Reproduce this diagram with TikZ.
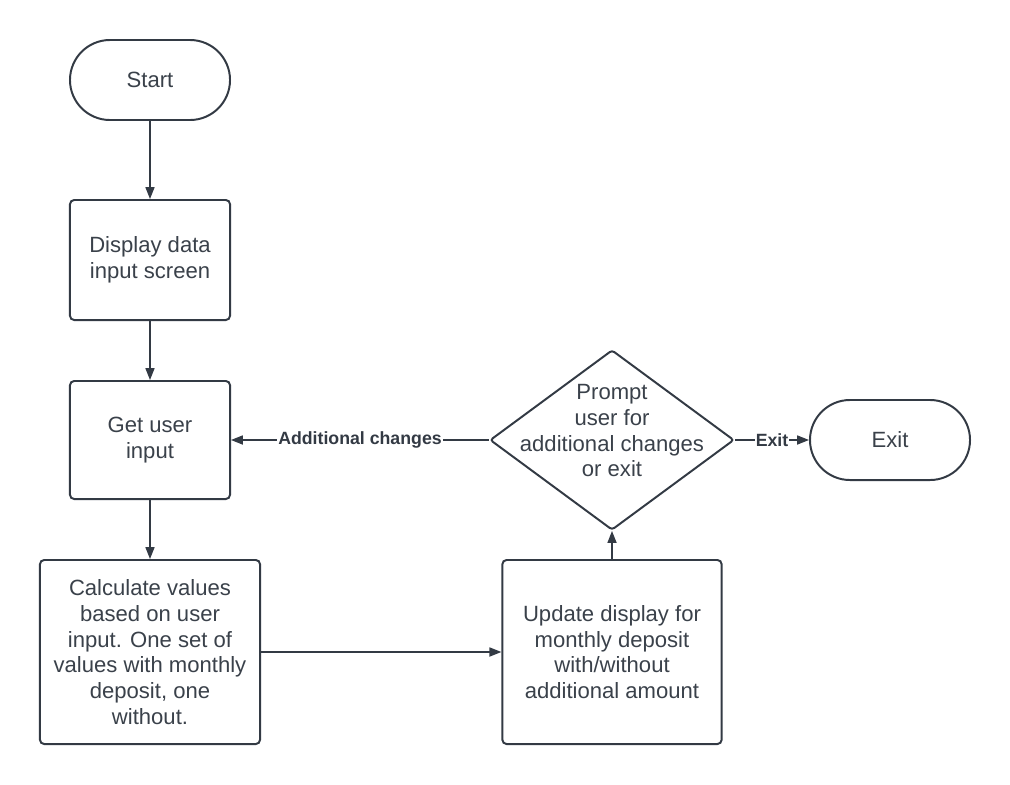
\documentclass[tikz,border=0pt]{standalone}
\usepackage{fontspec}
\setmainfont{Liberation Sans}
\usetikzlibrary{arrows.meta}
\usetikzlibrary{shapes.geometric}
\usetikzlibrary{positioning}

\begin{document}
\begin{tikzpicture}[x=0.025cm, y=-0.025cm,
  box/.style={draw=ink, line width=1.4pt, rounded corners=3pt, text=txt, align=center,
    font=\fontsize{15.7}{18.3}\selectfont, inner sep=0pt},
  term/.style={box, rounded corners=1cm, minimum width=4cm, minimum height=2cm},
  flow/.style={draw=ink, line width=0.9pt, -{Triangle[length=8.5pt, width=6.5pt]}},
  lbl/.style={fill=white, text=ink, font=\fontsize{12.6}{14}\selectfont\bfseries, inner sep=0.6pt}]
  \definecolor{ink}{RGB}{51,58,68}
  \definecolor{txt}{RGB}{58,65,74}

  \def\colx{150}
  \def\rightx{612}
  \def\midy{440}
  \def\lowy{652}

  \useasboundingbox (0,0) rectangle (1010,784);

  % left column
  \node[term] (start) at (\colx,80) {Start};
  \node[box, minimum width=4cm, minimum height=3cm] (display) at (\colx,260) {Display data\\input screen};
  \node[box, minimum width=4cm, minimum height=2.95cm] (input) at (\colx,\midy) {Get user\\input};
  \node[box, minimum width=5.5cm, minimum height=4.6cm] (calc) at (\colx,\lowy)
    {Calculate values\\based on user\\input. One set of\\values with monthly\\deposit, one\\without.};

  % right side
  \node[box, minimum width=5.48cm, minimum height=4.6cm] (update) at (\rightx,\lowy)
    {Update display for\\monthly deposit\\with/without\\additional amount};
  \node[draw=ink, line width=1.4pt, diamond, rounded corners=2pt, inner sep=0pt,
    minimum width=6.1cm, minimum height=4.5cm] (prompt) at (\rightx,\midy) {};
  \node[align=center, text=txt, font=\fontsize{15.7}{18.3}\selectfont, yshift=6.5pt] (prompttext) at (prompt.center)
    {Prompt\\user for\\additional changes\\or exit};
  \node[term] (exit) at (890,\midy) {Exit};

  % connectors
  \draw[flow] (start) -- (display);
  \draw[flow] (display) -- (input);
  \draw[flow] (input) -- (calc);
  \draw[flow] (calc) -- (update);
  \draw[flow] (update) -- (prompt);
  \draw[flow] (prompt) -- node[lbl] {Additional changes} (input);
  \draw[flow] (prompt) -- node[lbl] {Exit} (exit);

\end{tikzpicture}
\end{document}
